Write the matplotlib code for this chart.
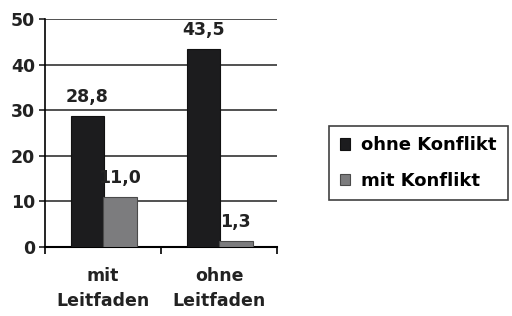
import numpy as np
import matplotlib
matplotlib.use("Agg")
import matplotlib.pyplot as plt

# data
categories = ["mit\nLeitfaden", "ohne\nLeitfaden"]
series_names = ["ohne Konflikt", "mit Konflikt"]
ohne_konflikt = [28.8, 43.5]
mit_konflikt = [11.0, 1.3]
labels_ohne = ["28,8", "43,5"]
labels_mit = ["11,0", "1,3"]

plt.rcParams["font.family"] = ["DejaVu Sans"]
plt.rcParams["font.weight"] = "bold"

fig = plt.figure(figsize=(5.12, 3.16), dpi=100)
ax = fig.add_axes([0.088, 0.218, 0.453, 0.722])

x = np.arange(len(categories))
w = 0.29
b1 = ax.bar(x - 0.135, ohne_konflikt, w, color="#1c1c1e", edgecolor="#111111",
            linewidth=0.8, zorder=3, label=series_names[0])
b2 = ax.bar(x + 0.145, mit_konflikt, w, color="#7c7c7e", edgecolor="#4a4a4a",
            linewidth=0.8, zorder=3, label=series_names[1])

for rect, txt in zip(b1, labels_ohne):
    ax.annotate(txt, (rect.get_x() + rect.get_width() / 2, rect.get_height()),
                xytext=(0, 7), textcoords="offset points", ha="center",
                va="bottom", fontsize=12.5, fontweight="bold", color="#222222")
for rect, txt in zip(b2, labels_mit):
    ax.annotate(txt, (rect.get_x() + rect.get_width() / 2, rect.get_height()),
                xytext=(0, 7), textcoords="offset points", ha="center",
                va="bottom", fontsize=12.5, fontweight="bold", color="#222222")

ax.set_xlim(-0.5, 1.5)
ax.set_ylim(0, 50)
ax.set_yticks(range(0, 51, 10))
ax.yaxis.grid(True, color="#333333", linewidth=1.2, zorder=0)
ax.set_axisbelow(True)

ax.set_xticks(x)
ax.set_xticklabels(categories, linespacing=1.55)
ax.set_xticks([-0.5, 0.5, 1.5], minor=True)
ax.tick_params(axis="x", which="major", length=0, pad=14, labelsize=12.5,
               colors="#222222")
ax.tick_params(axis="x", which="minor", length=5, width=1.2, direction="out")
ax.tick_params(axis="y", length=4, width=1.2, labelsize=12.5, colors="#222222",
               pad=3)
for lab in ax.get_xticklabels() + ax.get_yticklabels():
    lab.set_fontweight("bold")

for s in ["top", "right"]:
    ax.spines[s].set_visible(False)
ax.spines["left"].set_linewidth(1.2)
ax.spines["bottom"].set_linewidth(1.5)

leg = fig.legend(handles=[b1, b2], labels=series_names, loc="center left",
                 bbox_to_anchor=(0.642, 0.484), frameon=True, fancybox=False,
                 edgecolor="#111111", handlelength=0.6, handleheight=0.6,
                 handletextpad=0.6, labelspacing=0.95, borderpad=0.6,
                 borderaxespad=0, prop={"weight": "bold", "size": 13})
leg.get_frame().set_linewidth(1.2)

fig.savefig("out.png", dpi=100)
